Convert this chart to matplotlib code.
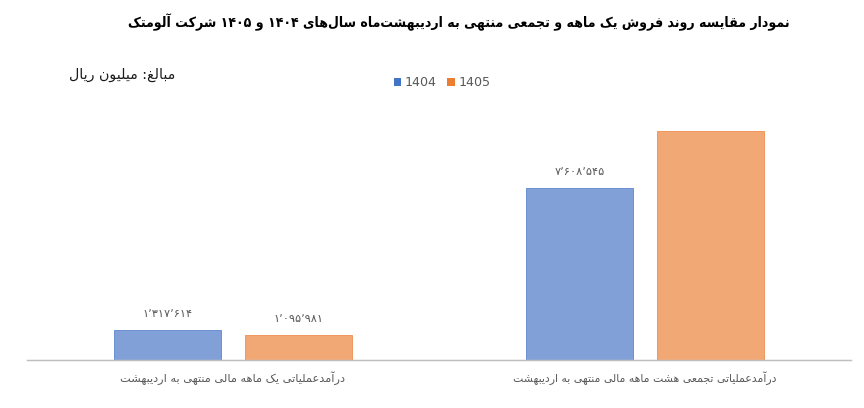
import re
import matplotlib
matplotlib.use("Agg")
import matplotlib.pyplot as plt
from matplotlib.patches import Patch
import numpy as np

# ---------------- data ----------------
title = "نمودار مقایسه روند فروش یک ماهه و تجمعی منتهی به اردیبهشت‌ماه سال‌های ۱۴۰۴ و ۱۴۰۵ شرکت آلومتک"
unit_note = "مبالغ: میلیون ریال"
categories = ["درآمدعملیاتی یک ماهه مالی منتهی به اردیبهشت",
              "درآمدعملیاتی تجمعی هشت ماهه مالی منتهی به اردیبهشت"]
series_names = ["1404", "1405"]
values_1404 = [1317614, 7608545]
values_1405 = [1095981, 10130000]
labels_1404 = ["۱٬۳۱۷٬۶۱۴", "۷٬۶۰۸٬۵۴۵"]
labels_1405 = ["۱٬۰۹۵٬۹۸۱", None]

# ------------- Persian shaping (presentation forms) + RTL ordering -------------
FORMS = {
    '\u0627': ('\uFE8D', '\uFE8E', None, None),
    '\u0622': ('\uFE81', '\uFE82', None, None),
    '\u0628': ('\uFE8F', '\uFE90', '\uFE91', '\uFE92'),
    '\u067E': ('\uFB56', '\uFB57', '\uFB58', '\uFB59'),
    '\u062A': ('\uFE95', '\uFE96', '\uFE97', '\uFE98'),
    '\u062B': ('\uFE99', '\uFE9A', '\uFE9B', '\uFE9C'),
    '\u062C': ('\uFE9D', '\uFE9E', '\uFE9F', '\uFEA0'),
    '\u0686': ('\uFB7A', '\uFB7B', '\uFB7C', '\uFB7D'),
    '\u062D': ('\uFEA1', '\uFEA2', '\uFEA3', '\uFEA4'),
    '\u062E': ('\uFEA5', '\uFEA6', '\uFEA7', '\uFEA8'),
    '\u062F': ('\uFEA9', '\uFEAA', None, None),
    '\u0630': ('\uFEAB', '\uFEAC', None, None),
    '\u0631': ('\uFEAD', '\uFEAE', None, None),
    '\u0632': ('\uFEAF', '\uFEB0', None, None),
    '\u0698': ('\uFB8A', '\uFB8B', None, None),
    '\u0633': ('\uFEB1', '\uFEB2', '\uFEB3', '\uFEB4'),
    '\u0634': ('\uFEB5', '\uFEB6', '\uFEB7', '\uFEB8'),
    '\u0635': ('\uFEB9', '\uFEBA', '\uFEBB', '\uFEBC'),
    '\u0636': ('\uFEBD', '\uFEBE', '\uFEBF', '\uFEC0'),
    '\u0637': ('\uFEC1', '\uFEC2', '\uFEC3', '\uFEC4'),
    '\u0638': ('\uFEC5', '\uFEC6', '\uFEC7', '\uFEC8'),
    '\u0639': ('\uFEC9', '\uFECA', '\uFECB', '\uFECC'),
    '\u063A': ('\uFECD', '\uFECE', '\uFECF', '\uFED0'),
    '\u0641': ('\uFED1', '\uFED2', '\uFED3', '\uFED4'),
    '\u0642': ('\uFED5', '\uFED6', '\uFED7', '\uFED8'),
    '\u06A9': ('\uFB8E', '\uFB8F', '\uFB90', '\uFB91'),
    '\u06AF': ('\uFB92', '\uFB93', '\uFB94', '\uFB95'),
    '\u0644': ('\uFEDD', '\uFEDE', '\uFEDF', '\uFEE0'),
    '\u0645': ('\uFEE1', '\uFEE2', '\uFEE3', '\uFEE4'),
    '\u0646': ('\uFEE5', '\uFEE6', '\uFEE7', '\uFEE8'),
    '\u0648': ('\uFEED', '\uFEEE', None, None),
    '\u0647': ('\uFEE9', '\uFEEA', '\uFEEB', '\uFEEC'),
    '\u06CC': ('\uFBFC', '\uFBFD', '\uFBFE', '\uFBFF'),
    '\u0626': ('\uFE89', '\uFE8A', '\uFE8B', '\uFE8C'),
}
LAM_ALEF = {'\u0627': ('\uFEFB', '\uFEFC'), '\u0622': ('\uFEF5', '\uFEF6')}
ZWNJ = '\u200C'


def _shape(text):
    out = []
    i = 0
    n = len(text)
    while i < n:
        c = text[i]
        if c == ZWNJ:
            i += 1
            continue
        if c not in FORMS:
            out.append(c)
            i += 1
            continue
        prev = text[i - 1] if i > 0 else None
        jp = prev in FORMS and FORMS[prev][2] is not None
        nxt = text[i + 1] if i + 1 < n else None
        if c == '\u0644' and nxt in LAM_ALEF:
            out.append(LAM_ALEF[nxt][1 if jp else 0])
            i += 2
            continue
        jn = FORMS[c][2] is not None and nxt in FORMS
        iso, fin, ini, med = FORMS[c]
        out.append(med if (jp and jn) else fin if jp else ini if jn else iso)
        i += 1
    return ''.join(out)


def persian(text):
    """Shape Persian text and put it in right-to-left visual order
    (number runs keep their left-to-right order)."""
    shaped = _shape(text)
    toks = re.findall(r'[0-9\u06F0-\u06F9\u066C]+|[^0-9\u06F0-\u06F9\u066C]+', shaped)
    vis = []
    for t in reversed(toks):
        vis.append(t if re.match(r'[0-9\u06F0-\u06F9]', t) else t[::-1])
    return ''.join(vis)


# ---------------- figure ----------------
DPI = 96
plt.rcParams['font.family'] = ['DejaVu Sans']
plt.rcParams['hatch.linewidth'] = 1.0

BLUE = '#4472C4'
ORANGE = '#ED7D31'
GREY_TXT = '#595959'

fig = plt.figure(figsize=(864 / DPI, 408 / DPI), dpi=DPI)
ax = fig.add_axes([27 / 864, 48 / 408, 824 / 864, 260 / 408])

x = np.arange(len(categories))
bw = 0.26
off = 0.159
b1 = ax.bar(x - off, values_1404, bw, facecolor='white', edgecolor=BLUE,
            hatch='--------', linewidth=0.5)
b2 = ax.bar(x + off, values_1405, bw, facecolor='white', edgecolor=ORANGE,
            hatch='--------', linewidth=0.5)

ax.set_xlim(-0.5, 1.5)
ax.set_ylim(0, 11500000)
for s in ['top', 'left', 'right']:
    ax.spines[s].set_visible(False)
ax.spines['bottom'].set_color('#BFBFBF')
ax.spines['bottom'].set_linewidth(1.1)
ax.set_yticks([])
ax.set_xticks([])

for bars, labs in ((b1, labels_1404), (b2, labels_1405)):
    for rect, lab in zip(bars, labs):
        if lab is None:
            continue
        ax.annotate(lab, (rect.get_x() + rect.get_width() / 2, rect.get_height()),
                    xytext=(0, 12), textcoords='offset points', ha='center',
                    va='center', fontsize=8.5, color=GREY_TXT)

cat_texts = []
for i, cat in enumerate(categories):
    t = ax.annotate(persian(cat), (x[i], 0), xycoords=('data', 'axes fraction'),
                    xytext=(0, -13.5), textcoords='offset points', ha='center',
                    va='center', fontsize=9, color=GREY_TXT)
    cat_texts.append(t)

title_t = fig.text(459 / 864, 1 - 22 / 408, persian(title), ha='center', va='center',
                   fontsize=12, fontweight='bold', fontstretch='condensed',
                   color='black')
note_t = fig.text(175 / 864, 1 - 75 / 408, persian(unit_note), ha='right', va='center',
                  fontsize=10, color='#1a1a1a')

handles = [Patch(facecolor=BLUE, label=series_names[0]),
           Patch(facecolor=ORANGE, label=series_names[1])]
fig.legend(handles=handles, loc='center', bbox_to_anchor=(442 / 864, 1 - 83 / 408),
           ncol=2, frameon=False, fontsize=9.5, handlelength=0.6, handleheight=0.6,
           handletextpad=0.3, columnspacing=0.8, labelcolor=GREY_TXT)

# fit text widths to the reference layout
fig.canvas.draw()
r = fig.canvas.get_renderer()
for t, target in ((title_t, 662), (note_t, 107), (cat_texts[0], 225), (cat_texts[1], 264)):
    w = t.get_window_extent(r).width
    t.set_fontsize(t.get_fontsize() * target / w)

fig.savefig('out.png', dpi=DPI)
